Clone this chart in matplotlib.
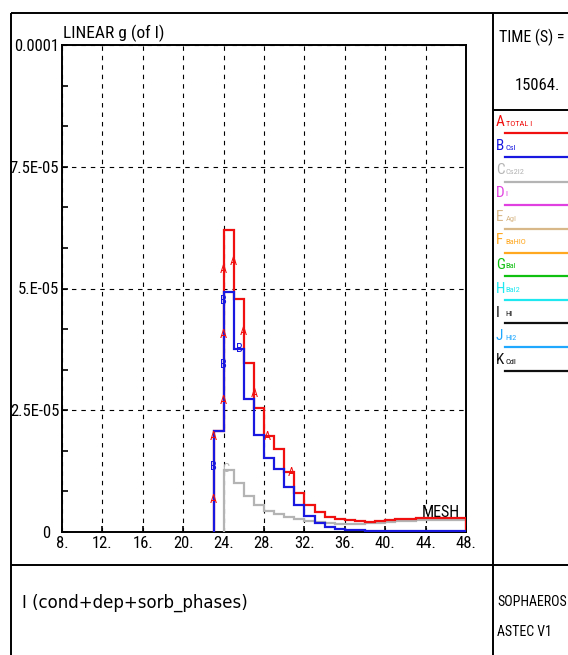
import matplotlib
matplotlib.use("Agg")
import matplotlib.pyplot as plt
from matplotlib.lines import Line2D
from matplotlib.ticker import MultipleLocator, FixedLocator, FuncFormatter
import numpy as np

# ---- data -------------------------------------------------------------
mesh_edges_main = list(range(23, 49))           # bin edges for TOTAL I and CsI
mesh_edges_cs2i2 = list(range(24, 49))          # bin edges for Cs2I2

total_i = [2.07, 6.20, 4.78, 3.48, 2.54, 1.97, 1.70, 1.23, 0.81, 0.55,
           0.42, 0.31, 0.26, 0.24, 0.22, 0.21, 0.22, 0.24, 0.26, 0.27,
           0.28, 0.29, 0.29, 0.29, 0.29]
csi = [2.07, 4.93, 3.75, 2.73, 1.99, 1.51, 1.30, 0.92, 0.55, 0.33,
       0.19, 0.10, 0.06, 0.05, 0.04, 0.02, 0.02, 0.02, 0.02, 0.02,
       0.02, 0.02, 0.02, 0.02, 0.02]
cs2i2 = [1.27, 1.00, 0.74, 0.55, 0.43, 0.36, 0.31, 0.26, 0.22, 0.20,
         0.18, 0.17, 0.17, 0.17, 0.18, 0.19, 0.20, 0.22, 0.23, 0.24,
         0.25, 0.25, 0.25, 0.25]
scale = 1e-5

# curve identification letters along each curve (x, value in 1e-5)
marks_a = [(23, 0.66), (23, 1.96), (24, 2.71), (24, 4.05), (24, 5.38),
           (25, 5.55), (26, 4.11), (27, 2.85), (28.3, 1.97), (30.7, 1.23)]
marks_b = [(23, 1.34), (24, 3.43), (24, 4.76), (25.6, 3.76)]
marks_c = [(24.2, 1.31)]

legend_letters = ["A", "B", "C", "D", "E", "F", "G", "H", "I", "J", "K"]
legend_names = ["TOTAL I", "CsI", "Cs2I2", "I", "AgI", "BaHIO", "BaI",
                "BaI2", "HI", "HI2", "CdI"]
legend_colors = ["#f01010", "#1818e0", "#b4b4b4", "#e040e0", "#d8b888",
                 "#ffa820", "#10c010", "#20e8f0", "#101010", "#20a8ff",
                 "#101010"]

x_ticks = [8, 12, 16, 20, 24, 28, 32, 36, 40, 44, 48]
y_ticks = [0, 2.5e-5, 5e-5, 7.5e-5, 1e-4]
y_tick_labels = ["0  ", "2.5E-05", "5.E-05", "7.5E-05", "0.0001"]

# ---- figure -----------------------------------------------------------
W, H = 568, 655
fig = plt.figure(figsize=(W / 100, H / 100), dpi=100)
fig.patch.set_facecolor("white")

NARROW = ["Roboto Condensed", "DejaVu Sans"]


def fx(px):
    return px / W


def fy(py):
    return 1 - py / H


def hline(x0, x1, y, **kw):
    fig.add_artist(Line2D([fx(x0), fx(x1)], [fy(y), fy(y)],
                          transform=fig.transFigure, **kw))


def vline(x, y0, y1, **kw):
    fig.add_artist(Line2D([fx(x), fx(x)], [fy(y0), fy(y1)],
                          transform=fig.transFigure, **kw))


# page frame
frame = dict(color="black", lw=1.4, solid_capstyle="butt")
hline(10.5, 570, 12.5, **frame)
vline(10.5, 12.5, 660, **frame)
vline(493, 12.5, 660, **frame)
hline(10.5, 570, 565, **frame)
hline(493, 570, 110, **frame)

# ---- plot area --------------------------------------------------------
ax_l, ax_r, ax_t, ax_b = 62, 466, 45, 532
ax = fig.add_axes([fx(ax_l), fy(ax_b), (ax_r - ax_l) / W, (ax_b - ax_t) / H])
ax.set_xlim(8, 48)
ax.set_ylim(0, 1e-4)
for s in ax.spines.values():
    s.set_linewidth(1.4)
    s.set_color("black")

ax.xaxis.set_major_locator(FixedLocator(x_ticks))
ax.xaxis.set_major_formatter(FuncFormatter(lambda v, p: f"{int(round(v))}."))
ax.yaxis.set_major_locator(FixedLocator(y_ticks))
ax.yaxis.set_major_formatter(
    FuncFormatter(lambda v, p: y_tick_labels[int(round(v / 2.5e-5))]))
ax.yaxis.set_minor_locator(MultipleLocator(1e-4 / 12))
ax.tick_params(axis="both", which="both", direction="in", length=4,
               width=1.2, color="black", top=False, right=False)
ax.tick_params(axis="x", pad=3, labelsize=12)
ax.tick_params(axis="y", pad=2, labelsize=12)
for lab in ax.get_xticklabels() + ax.get_yticklabels():
    lab.set_family(NARROW)

ax.grid(True, which="major", color="black", lw=0.8, linestyle=(0, (4, 4.5)))
ax.set_axisbelow(True)

ax.stairs(np.array(cs2i2) * scale, mesh_edges_cs2i2, baseline=0,
          color=legend_colors[2], lw=1.6, zorder=3)
ax.stairs(np.array(total_i) * scale, mesh_edges_main, baseline=0,
          color=legend_colors[0], lw=1.6, zorder=4)
ax.stairs(np.array(csi) * scale, mesh_edges_main, baseline=0,
          color=legend_colors[1], lw=1.6, zorder=5)

for marks, letter, col in [(marks_a, "A", legend_colors[0]),
                           (marks_b, "B", legend_colors[1]),
                           (marks_c, "C", legend_colors[2])]:
    for mx, my in marks:
        ax.text(mx, my * scale, letter, color=col, fontsize=9,
                family=NARROW, ha="center", va="center", zorder=6)

ax.text(0.985, 0.041, "MESH", transform=ax.transAxes, ha="right",
        va="center", fontsize=11.5, family=NARROW, color="black")

fig.text(fx(63), fy(33), "LINEAR g (of I)", fontsize=12.5, family=NARROW,
         ha="left", va="center")

# ---- right panel ------------------------------------------------------
fig.text(fx(499), fy(37), "TIME (S) =", fontsize=11.5, family=NARROW,
         ha="left", va="center")
fig.text(fx(515), fy(85), "15064.", fontsize=12, family=NARROW,
         ha="left", va="center")

text_y = [122, 146, 170, 193, 217, 240, 265, 289, 313, 336, 360]
line_y = [133, 157, 182, 205, 229, 253, 276, 300, 323, 347, 371]
for letter, name, col, ty, ly in zip(legend_letters, legend_names,
                                     legend_colors, text_y, line_y):
    fig.text(fx(496), fy(ty), letter, color=col, fontsize=11,
             family=NARROW, ha="left", va="center")
    fig.text(fx(505.5), fy(ty + 1.5), name, color=col, fontsize=6,
             family=NARROW, ha="left", va="center")
    hline(505, 570, ly, color=col, lw=1.6)

# ---- bottom panel -----------------------------------------------------
fig.text(fx(22), fy(603), "I (cond+dep+sorb_phases)", fontsize=12,
         family=["DejaVu Sans"], ha="left", va="center")
fig.text(fx(497), fy(602), "SOPHAEROS", fontsize=10, family=NARROW,
         ha="left", va="center")
fig.text(fx(497), fy(632), "ASTEC V1", fontsize=10, family=NARROW,
         ha="left", va="center")

fig.savefig("out.png", dpi=100)
